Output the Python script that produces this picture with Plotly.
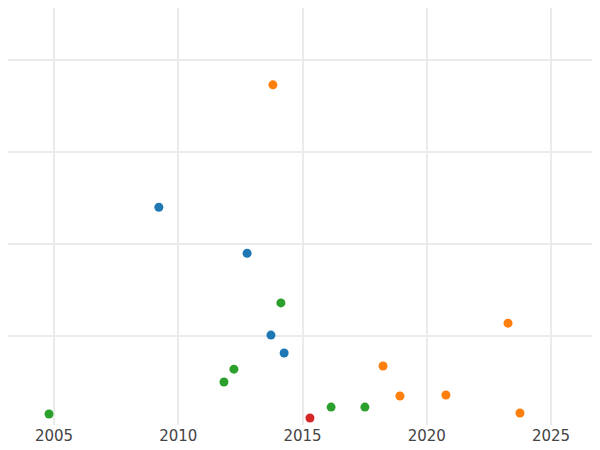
import plotly.graph_objects as go

blue_x = [2009.22, 2012.77, 2013.73, 2014.26]
blue_y = [2.40, 1.90, 1.01, 0.815]
orange_x = [2013.81, 2018.24, 2018.92, 2020.77, 2023.27, 2023.75]
orange_y = [3.73, 0.674, 0.348, 0.359, 1.14, 0.163]
green_x = [2004.8, 2014.13, 2012.24, 2011.84, 2016.15, 2017.51]
green_y = [0.152, 1.36, 0.64, 0.50, 0.228, 0.228]
red_x = [2015.30]
red_y = [0.109]

fig = go.Figure()
for xs, ys, c in [(blue_x, blue_y, "#1f77b4"), (orange_x, orange_y, "#ff7f0e"),
                  (green_x, green_y, "#2ca02c"), (red_x, red_y, "#d62728")]:
    fig.add_trace(go.Scatter(x=xs, y=ys, mode="markers",
                             marker=dict(color=c, size=9), showlegend=False))

fig.update_layout(
    width=592, height=442, margin=dict(l=0, r=0, t=0, b=25),
    plot_bgcolor="white", paper_bgcolor="white",
    font=dict(family="DejaVu Sans", size=15, color="#444"),
    xaxis=dict(range=[2003.15, 2026.97], tickvals=[2005, 2010, 2015, 2020, 2025],
               showgrid=True, gridcolor="#ebebeb", gridwidth=2, zeroline=False, showline=False),
    yaxis=dict(range=[0.033, 4.565], tickvals=[1, 2, 3, 4], showticklabels=False,
               showgrid=True, gridcolor="#ebebeb", gridwidth=2, zeroline=False, showline=False),
)
fig.write_html("out.html", config={"displayModeBar": False})
